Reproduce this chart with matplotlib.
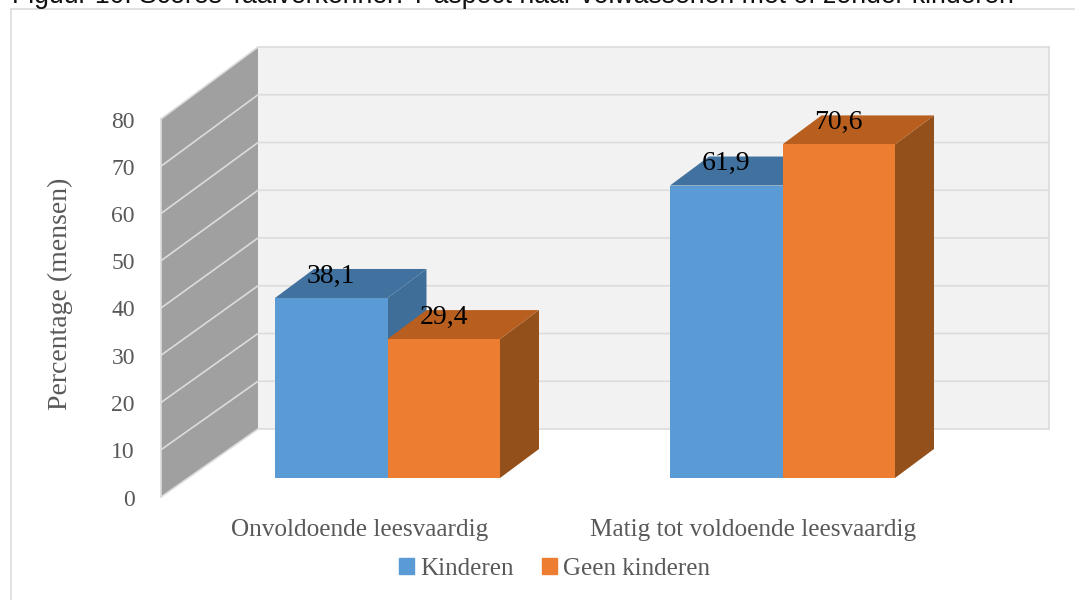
import matplotlib
matplotlib.use('Agg')
import matplotlib.pyplot as plt
from matplotlib.patches import Polygon, Patch

# Data
categorieen = ['Onvoldoende leesvaardig', 'Matig tot voldoende leesvaardig']
kinderen = [38.1, 61.9]
geen_kinderen = [29.4, 70.6]
labels_kinderen = ['38,1', '61,9']
labels_geen = ['29,4', '70,6']
y_ticks = [0, 10, 20, 30, 40, 50, 60, 70, 80]

BLAUW = ('#5b9bd5', '#41719f', '#3f6e99')
ORANJE = ('#ed7d31', '#b85f20', '#94501b')

# Layout in pixels along x, in percent units along y
W, H = 1075, 600
PX = 4.725  # pixels per percent on the front edge
Y0_PX = 497
x_front, x_back, x_right = 161, 258, 1049
back_base = (Y0_PX - 429) / PX
back_scale = 382 / 378

bar_w = 112.5
bar_left = [275, 670]
cat_x = [359.5, 753.5]
bar_base = (Y0_PX - 478) / PX
depth_x = 39
depth_y = 29 / PX

fig = plt.figure(figsize=(W / 100, H / 100), dpi=100)
ax = fig.add_axes([0, 0, 1, 1])
ax.set_xlim(0, W)
ax.set_ylim(-(H - Y0_PX) / PX, Y0_PX / PX)
ax.axis('off')

serif = 'Liberation Serif'
grijs = '#595959'


def back_y(v):
    return back_base + v * back_scale


# Outer frame and title (cut off by the top of the page)
frame_top = (Y0_PX - 9) / PX
ax.plot([11, 11], [ax.get_ylim()[0], frame_top], color='#dcdcdc', lw=1.2)
ax.plot([11, W], [frame_top, frame_top], color='#dcdcdc', lw=1.2)
ax.text(12, (Y0_PX - 3) / PX, 'Figuur 10. Scores Taalverkenner: T-aspect naar volwassenen met of zonder kinderen',
        family='Liberation Sans', fontsize=19.2, color='#111111', va='baseline', ha='left')

# Walls
ax.add_patch(Polygon([(x_back, back_y(0)), (x_right, back_y(0)), (x_right, back_y(80)), (x_back, back_y(80))],
                     facecolor='#f2f2f2', edgecolor='none', zorder=1))
ax.add_patch(Polygon([(x_front, 0), (x_back, back_y(0)), (x_back, back_y(80)), (x_front, 80)],
                     facecolor='#a0a0a0', edgecolor='none', zorder=1))
for t in y_ticks:
    ax.plot([x_front, x_back, x_right], [t, back_y(t), back_y(t)], color='#dcdcdc', lw=1.2, zorder=2)
    ax.text(135, t - 3 / PX, str(t), family=serif, fontsize=17, color=grijs, ha='right', va='center')
ax.plot([x_front, x_front], [0, 80], color='#dcdcdc', lw=1.2, zorder=2)
ax.plot([x_right, x_right], [back_y(0), back_y(80)], color='#dcdcdc', lw=1.2, zorder=2)


def balk(x, waarde, kleuren, z):
    top = bar_base + waarde
    ax.add_patch(Polygon([(x + bar_w, bar_base), (x + bar_w + depth_x, bar_base + depth_y),
                          (x + bar_w + depth_x, top + depth_y), (x + bar_w, top)],
                         facecolor=kleuren[2], edgecolor='none', zorder=z))
    ax.add_patch(Polygon([(x, top), (x + bar_w, top), (x + bar_w + depth_x, top + depth_y), (x + depth_x, top + depth_y)],
                         facecolor=kleuren[1], edgecolor='none', zorder=z))
    ax.add_patch(Polygon([(x, bar_base), (x + bar_w, bar_base), (x + bar_w, top), (x, top)],
                         facecolor=kleuren[0], edgecolor='none', zorder=z + 0.1))
    return top


for i, cat in enumerate(categorieen):
    x = bar_left[i]
    top_a = balk(x, kinderen[i], BLAUW, 3)
    top_b = balk(x + bar_w, geen_kinderen[i], ORANJE, 4)
    ax.text(x + bar_w / 2, top_a + 22 / PX, labels_kinderen[i], family=serif, fontsize=20, color='black',
            ha='center', va='center', zorder=6)
    ax.text(x + bar_w * 1.5, top_b + 22 / PX, labels_geen[i], family=serif, fontsize=20, color='black',
            ha='center', va='center', zorder=6)
    ax.text(cat_x[i], (Y0_PX - 530) / PX, cat, family=serif, fontsize=18.2, color=grijs,
            ha='center', va='center')

ax.text(60, (Y0_PX - 294) / PX, 'Percentage (mensen)', family=serif, fontsize=20, color=grijs,
        rotation=90, ha='center', va='center')

handles = [Patch(color=BLAUW[0], label='Kinderen'), Patch(color=ORANJE[0], label='Geen kinderen')]
ax.legend(handles=handles, loc='center', bbox_to_anchor=(554.5 / W, 1 - 569 / H), ncol=2, frameon=False,
          prop={'family': serif, 'size': 18}, labelcolor=grijs, handlelength=0.6, handleheight=0.6,
          handletextpad=0.25, columnspacing=1.15)

fig.savefig('out.png', dpi=100)
